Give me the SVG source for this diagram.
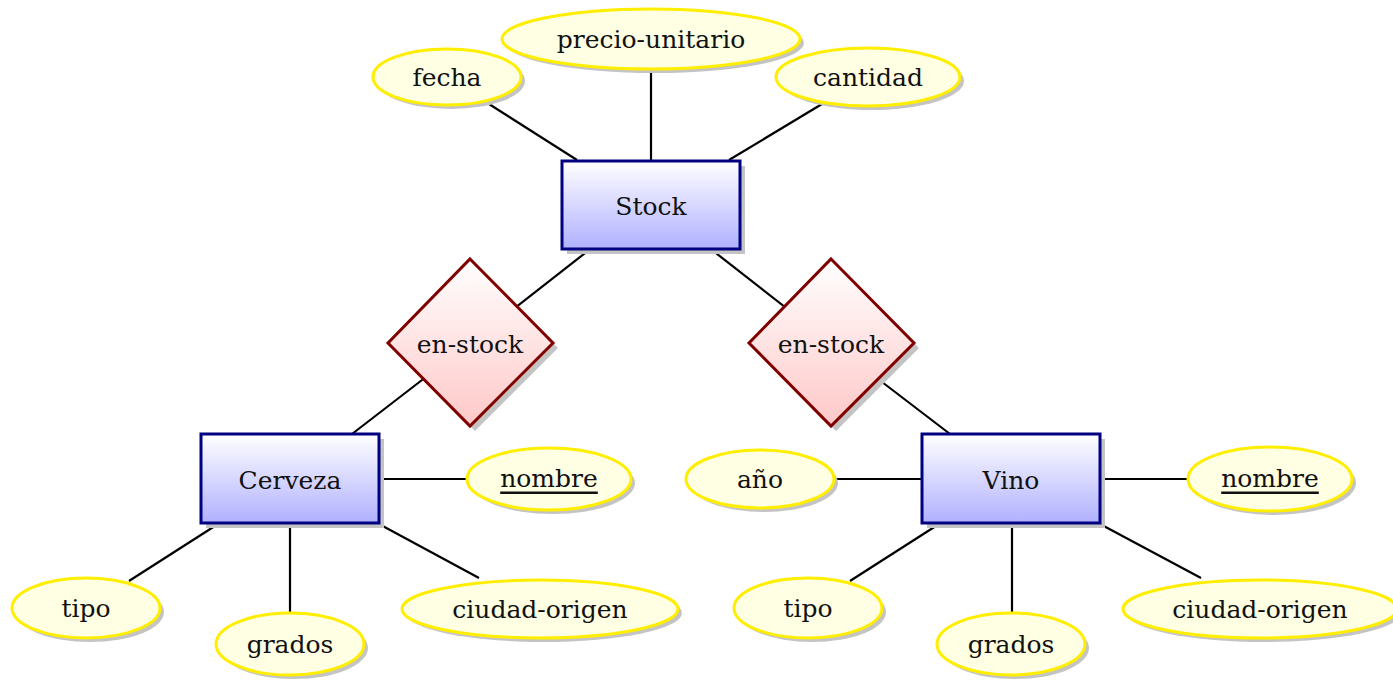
<svg xmlns="http://www.w3.org/2000/svg" width="1393" height="681" viewBox="0 0 1393 681">
<defs>
<linearGradient id="gBox" x1="0" y1="0" x2="0" y2="1"><stop offset="0" stop-color="#ffffff"/><stop offset="1" stop-color="#b0b0ff"/></linearGradient>
<linearGradient id="gDia" x1="0" y1="0" x2="0" y2="1"><stop offset="0" stop-color="#ffffff"/><stop offset="1" stop-color="#ffc8c8"/></linearGradient>
</defs>
<style>
.ln{stroke:#000;stroke-width:2.2;fill:none}
.box{fill:url(#gBox);stroke:#000080;stroke-width:3}
.dia{fill:url(#gDia);stroke:#800000;stroke-width:3}
.ell{fill:#ffffe3;stroke:#ffee00;stroke-width:3}
.sh{fill:#c4c4c4}
text{font-family:"DejaVu Serif",serif;font-size:25px;fill:#111;text-anchor:middle;dominant-baseline:central}
.u{text-decoration:underline}
</style>
<g id="connectors">
<line class="ln" x1="489" y1="104" x2="577" y2="160"/>
<line class="ln" x1="651" y1="70" x2="651" y2="161"/>
<line class="ln" x1="822" y1="104" x2="729" y2="160"/>
<line class="ln" x1="589" y1="250" x2="470" y2="343"/>
<line class="ln" x1="470" y1="343" x2="352" y2="434"/>
<line class="ln" x1="712" y1="250" x2="831" y2="343"/>
<line class="ln" x1="831" y1="343" x2="950" y2="434"/>
<line class="ln" x1="379" y1="479" x2="467" y2="479"/>
<line class="ln" x1="218" y1="524" x2="129" y2="581"/>
<line class="ln" x1="290" y1="523" x2="290" y2="613"/>
<line class="ln" x1="379" y1="524" x2="479" y2="578"/>
<line class="ln" x1="834" y1="479" x2="922" y2="479"/>
<line class="ln" x1="1100" y1="479" x2="1188" y2="479"/>
<line class="ln" x1="939" y1="524" x2="850" y2="581"/>
<line class="ln" x1="1012" y1="523" x2="1012" y2="613"/>
<line class="ln" x1="1100" y1="524" x2="1201" y2="578"/>
</g>
<g id="stock">
<rect class="sh" x="567" y="166" width="178" height="88"/>
<rect class="box" x="562" y="161" width="178" height="88"/>
<text x="651" y="206">Stock</text>
</g>
<g id="cerveza">
<rect class="sh" x="206" y="439" width="178" height="89"/>
<rect class="box" x="201" y="434" width="178" height="89"/>
<text x="290" y="480">Cerveza</text>
</g>
<g id="vino">
<rect class="sh" x="927" y="439" width="178" height="89"/>
<rect class="box" x="922" y="434" width="178" height="89"/>
<text x="1011" y="480">Vino</text>
</g>
<g id="enstock1">
<polygon class="sh" points="475,264 558,348 475,431 393,348"/>
<polygon class="dia" points="470,259 553,343 470,426 388,343"/>
<text x="470" y="344">en-stock</text>
</g>
<g id="enstock2">
<polygon class="sh" points="836,264 919,348 836,431 754,348"/>
<polygon class="dia" points="831,259 914,343 831,426 749,343"/>
<text x="831" y="344">en-stock</text>
</g>
<g id="fecha">
<ellipse class="sh" cx="451" cy="81" rx="74" ry="28"/>
<ellipse class="ell" cx="447" cy="77" rx="74" ry="28"/>
<text x="447" y="77">fecha</text>
</g>
<g id="precio">
<ellipse class="sh" cx="655" cy="43" rx="149" ry="30"/>
<ellipse class="ell" cx="651" cy="39" rx="149" ry="30"/>
<text x="651" y="39">precio-unitario</text>
</g>
<g id="cantidad">
<ellipse class="sh" cx="872" cy="81" rx="92" ry="29"/>
<ellipse class="ell" cx="868" cy="77" rx="92" ry="29"/>
<text x="868" y="77">cantidad</text>
</g>
<g id="nombre1">
<ellipse class="sh" cx="553" cy="483" rx="82" ry="31"/>
<ellipse class="ell" cx="549" cy="479" rx="82" ry="31"/>
<text class="u" x="549" y="478">nombre</text>
</g>
<g id="tipo1">
<ellipse class="sh" cx="90" cy="612" rx="74" ry="30"/>
<ellipse class="ell" cx="86" cy="608" rx="74" ry="30"/>
<text x="86" y="608">tipo</text>
</g>
<g id="grados1">
<ellipse class="sh" cx="294" cy="648" rx="74" ry="31"/>
<ellipse class="ell" cx="290" cy="644" rx="74" ry="31"/>
<text x="290" y="644">grados</text>
</g>
<g id="ciudad1">
<ellipse class="sh" cx="544" cy="613" rx="138" ry="29"/>
<ellipse class="ell" cx="540" cy="609" rx="138" ry="29"/>
<text x="540" y="609">ciudad-origen</text>
</g>
<g id="anio">
<ellipse class="sh" cx="764" cy="483" rx="74" ry="29"/>
<ellipse class="ell" cx="760" cy="479" rx="74" ry="29"/>
<text x="760" y="479">año</text>
</g>
<g id="nombre2">
<ellipse class="sh" cx="1274" cy="483" rx="82" ry="32"/>
<ellipse class="ell" cx="1270" cy="479" rx="82" ry="32"/>
<text class="u" x="1270" y="478">nombre</text>
</g>
<g id="tipo2">
<ellipse class="sh" cx="812" cy="612" rx="74" ry="30"/>
<ellipse class="ell" cx="808" cy="608" rx="74" ry="30"/>
<text x="808" y="608">tipo</text>
</g>
<g id="grados2">
<ellipse class="sh" cx="1015" cy="648" rx="74" ry="31"/>
<ellipse class="ell" cx="1011" cy="644" rx="74" ry="31"/>
<text x="1011" y="644">grados</text>
</g>
<g id="ciudad2">
<ellipse class="sh" cx="1264" cy="613" rx="137" ry="29"/>
<ellipse class="ell" cx="1260" cy="609" rx="137" ry="29"/>
<text x="1260" y="609">ciudad-origen</text>
</g>
</svg>
